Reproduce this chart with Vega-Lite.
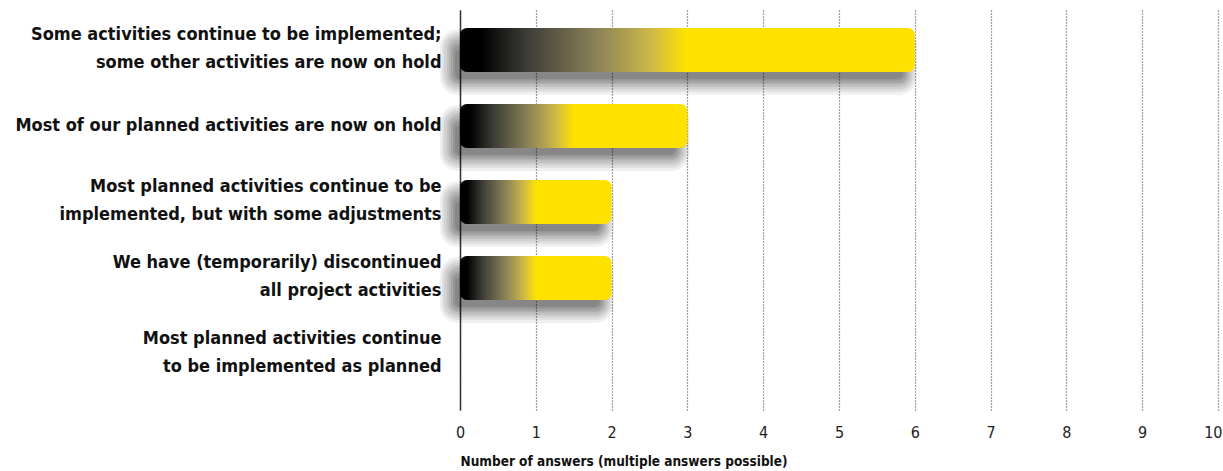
{
  "$schema": "https://vega.github.io/schema/vega-lite/v6.json",
  "width": 758,
  "height": 400,
  "autosize": {"type": "none"},
  "padding": {"left": 460, "top": 10, "right": 5, "bottom": 61},
  "background": "white",
  "config": {"view": {"stroke": null}, "font": "DejaVu Sans Condensed"},
  "data": {
    "values": [
      {"label": "Some activities continue to be implemented;|some other activities are now on hold", "value": 6},
      {"label": "Most of our planned activities are now on hold", "value": 3},
      {"label": "Most planned activities continue to be|implemented, but with some adjustments", "value": 2},
      {"label": "We have (temporarily) discontinued|all project activities", "value": 2},
      {"label": "Most planned activities continue|to be implemented as planned", "value": 0}
    ]
  },
  "encoding": {
    "y": {
      "field": "label",
      "type": "nominal",
      "sort": null,
      "scale": {"paddingInner": 0.421, "paddingOuter": 0.342, "align": 0.346},
      "axis": {
        "title": null,
        "labelExpr": "split(datum.label, '|')",
        "labelFont": "DejaVu Sans Condensed",
        "labelFontWeight": "bold",
        "labelFontSize": 18,
        "labelColor": "#111111",
        "labelLineHeight": 28,
        "labelPadding": 19,
        "labelLimit": 0,
        "labelOffset": {"condition": {"test": "indexof(datum.value, '|') >= 0", "value": -15}, "value": 0},
        "ticks": false,
        "grid": false,
        "domainColor": "#333333",
        "domainWidth": 1.5
      }
    },
    "x": {
      "field": "value",
      "type": "quantitative",
      "scale": {"domain": [0, 10], "nice": false},
      "axis": {
        "values": [0, 1, 2, 3, 4, 5, 6, 7, 8, 9, 10],
        "grid": true,
        "gridDash": [1, 2],
        "gridColor": "#444444",
        "gridWidth": 1.2,
        "domain": false,
        "ticks": false,
        "labelFont": "DejaVu Sans Condensed",
        "labelFontSize": 16,
        "labelColor": "#222222",
        "labelPadding": 14,
        "labelFlush": false,
        "labelAlign": {"condition": {"test": "datum.value == 10", "value": "right"}, "value": "center"},
        "labelOffset": {"condition": {"test": "datum.value == 10", "value": 4}, "value": 0},
        "title": "Number of answers (multiple answers possible)",
        "titleFont": "DejaVu Sans Condensed",
        "titleFontSize": 13.5,
        "titleFontWeight": "bold",
        "titleColor": "#111111",
        "titleAnchor": "start",
        "titlePadding": 14
      }
    },
    "x2": {"datum": 0}
  },
  "layer": [
    {"transform": [{"filter": "datum.value > 0"}], "mark": {"type": "bar", "fill": "#000000", "opacity": 0.06, "size": 66, "yOffset": 12, "x2Offset": -20, "xOffset": 2, "cornerRadius": 18}},
    {"transform": [{"filter": "datum.value > 0"}], "mark": {"type": "bar", "fill": "#000000", "opacity": 0.06, "size": 60, "yOffset": 12, "x2Offset": -18, "xOffset": 0, "cornerRadius": 16}},
    {"transform": [{"filter": "datum.value > 0"}], "mark": {"type": "bar", "fill": "#000000", "opacity": 0.07, "size": 55, "yOffset": 12, "x2Offset": -16, "xOffset": -2, "cornerRadius": 14}},
    {"transform": [{"filter": "datum.value > 0"}], "mark": {"type": "bar", "fill": "#000000", "opacity": 0.07, "size": 50, "yOffset": 12, "x2Offset": -13, "xOffset": -4, "cornerRadius": 12}},
    {"transform": [{"filter": "datum.value > 0"}], "mark": {"type": "bar", "fill": "#000000", "opacity": 0.08, "size": 45, "yOffset": 12, "x2Offset": -11, "xOffset": -6, "cornerRadius": 10}},
    {"transform": [{"filter": "datum.value > 0"}], "mark": {"type": "bar", "fill": "#000000", "opacity": 0.08, "size": 40, "yOffset": 13, "x2Offset": -9, "xOffset": -8, "cornerRadius": 8}},
    {"transform": [{"filter": "datum.value > 0"}], "mark": {"type": "bar", "fill": "#000000", "opacity": 0.09, "size": 35, "yOffset": 13, "x2Offset": -7, "xOffset": -10, "cornerRadius": 7}},
    {"transform": [{"filter": "datum.value > 0"}], "mark": {"type": "bar", "fill": "#000000", "opacity": 0.09, "size": 30, "yOffset": 14, "x2Offset": -5, "xOffset": -12, "cornerRadius": 6}},
    {
      "mark": {
        "type": "bar",
        "size": 44,
        "cornerRadiusEnd": 7,
        "fill": {
          "gradient": "linear",
          "x1": 0, "x2": 1, "y1": 0, "y2": 0,
          "stops": [
            {"offset": 0, "color": "#000000"},
            {"offset": 0.045, "color": "#000000"},
            {"offset": 0.15, "color": "#3e3e38"},
            {"offset": 0.3, "color": "#8b8258"},
            {"offset": 0.42, "color": "#cdb848"},
            {"offset": 0.5, "color": "#ffe200"},
            {"offset": 1, "color": "#ffe200"}
          ]
        }
      }
    }
  ]
}
